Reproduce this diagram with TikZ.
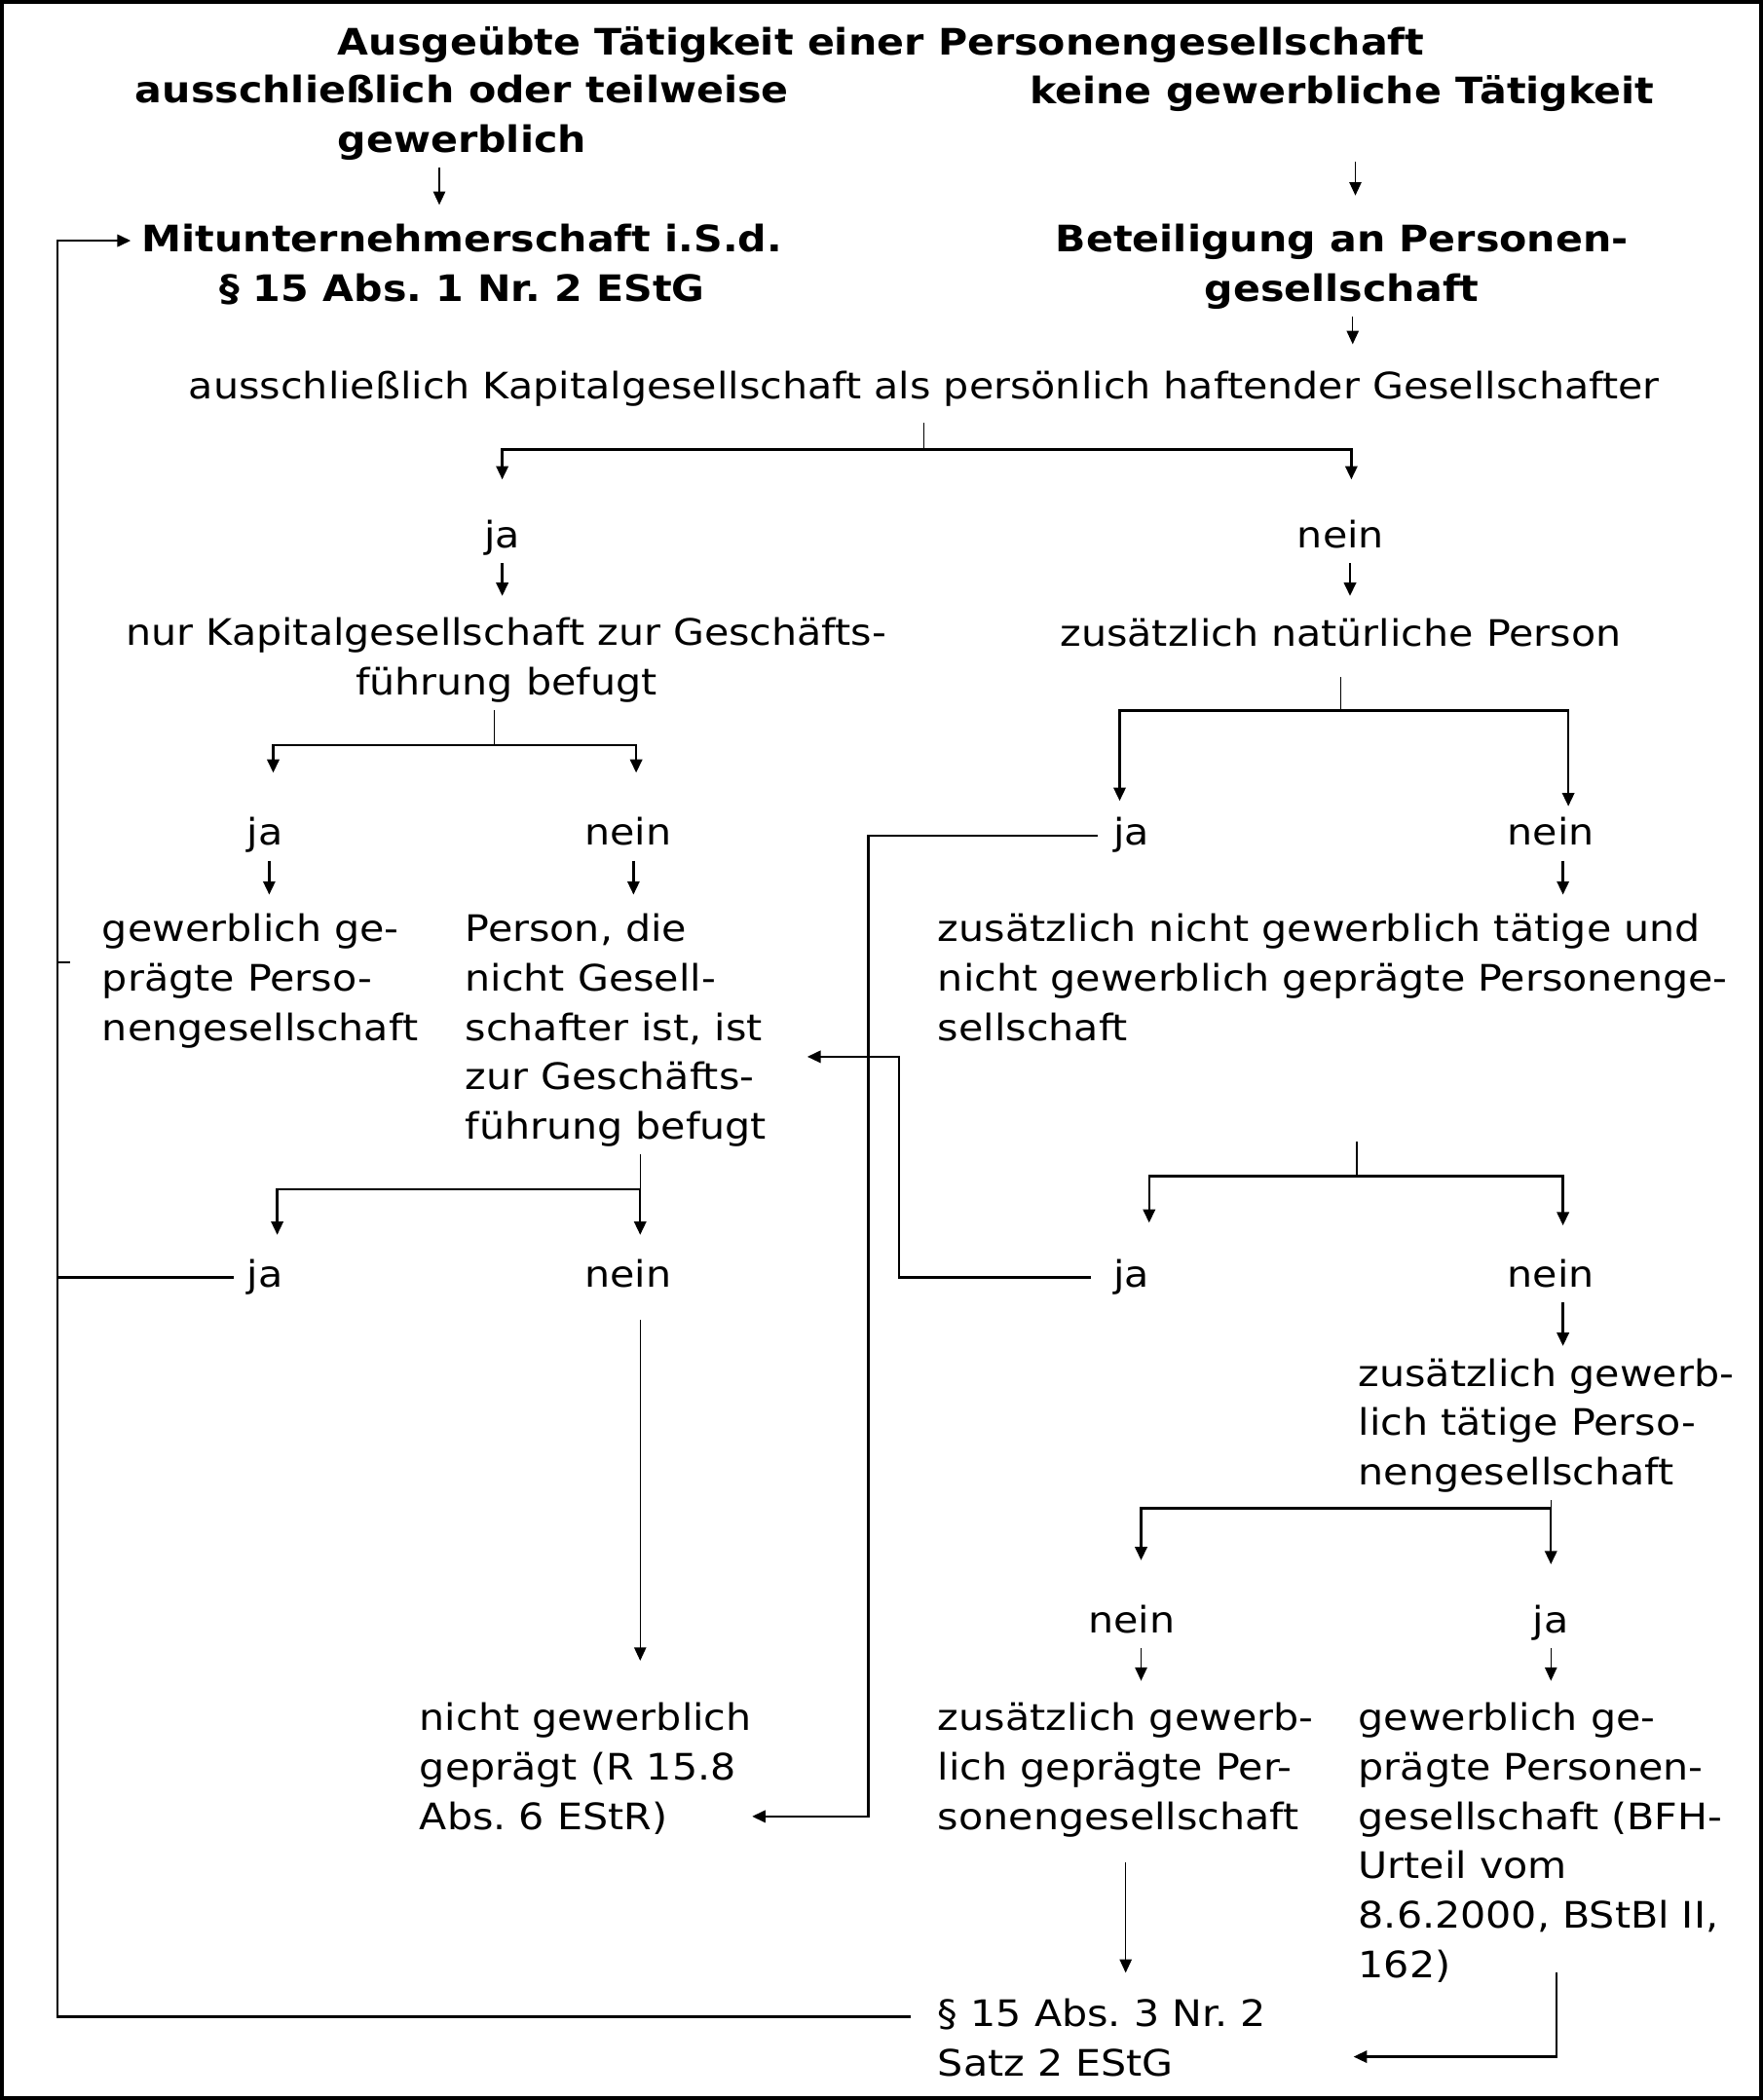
\documentclass[tikz,border=0pt]{standalone}
\usepackage{fontspec}
\setmainfont{DejaVu Sans}[FakeStretch=1.1]
\usetikzlibrary{arrows.meta}
\newcommand{\fs}{\fontsize{15.5}{21}\selectfont}
\frenchspacing

\begin{document}
\begin{tikzpicture}[x=0.02cm, y=-0.02cm,
    txt/.style={anchor=north west, inner sep=0pt, align=left, font=\fs,
      execute at begin node=\strut, execute at end node=\strut},
    ctxt/.style={txt, anchor=north, align=center},
    btxt/.style={ctxt, font=\fs\bfseries},
    lin/.style={line width=1pt},
    thin/.style={line width=0.6pt},
    arr/.style={lin, -{Triangle[length=2mm,width=1.8mm]}}]
    \useasboundingbox (0,0) rectangle (1316,1568);
    \draw[line width=1.6pt] (1.4,1.4) rectangle (1314.6,1566.6);

    % headings
    \node[btxt] (titel) at (658,15) {Ausgeübte Tätigkeit einer Personengesellschaft};
    \node[btxt] (gewl) at (345,56) {ausschließlich oder teilweise\\gewerblich};
    \node[btxt] (keine) at (1002,51) {keine gewerbliche Tätigkeit};
    \node[btxt] (mitu) at (345,167) {Mitunternehmerschaft i.S.d.\\§ 15 Abs. 1 Nr. 2 EStG};
    \node[btxt] (beteil) at (1002,167) {Beteiligung an Personen-\\gesellschaft};
    \node[ctxt] (kap) at (690,272) {ausschließlich Kapitalgesellschaft als persönlich haftender Gesellschafter};

    \node[ctxt] (ja1) at (375,383) {ja};
    \node[ctxt] (nein1) at (1001,383) {nein};
    \node[ctxt] (nurkap) at (378,461) {nur Kapitalgesellschaft zur Geschäfts-\\führung befugt};
    \node[ctxt] (zusnat) at (1001,456) {zusätzlich natürliche Person};

    \node[ctxt] (ja2) at (198,605) {ja};
    \node[ctxt] (nein2) at (469,605) {nein};
    \node[ctxt] (ja3) at (845,605) {ja};
    \node[ctxt] (nein3) at (1158,605) {nein};

    \node[txt] (gepr1) at (76,682) {gewerblich ge-\\prägte Perso-\\nengesellschaft};
    \node[txt] (person) at (347,682) {Person, die\\nicht Gesell-\\schafter ist, ist\\zur Geschäfts-\\führung befugt};
    \node[txt] (zusnicht) at (700,682) {zusätzlich nicht gewerblich tätige und\\nicht gewerblich geprägte Personenge-\\sellschaft};

    \node[ctxt] (ja4) at (198,935) {ja};
    \node[ctxt] (nein4) at (469,935) {nein};
    \node[ctxt] (ja5) at (845,935) {ja};
    \node[ctxt] (nein5) at (1158,935) {nein};

    \node[txt] (zusgewt) at (1014,1014) {zusätzlich gewerb-\\lich tätige Perso-\\nengesellschaft};
    \node[ctxt] (nein6) at (845,1193) {nein};
    \node[ctxt] (ja6) at (1158,1193) {ja};

    \node[txt] (nichtgew) at (313,1271) {nicht gewerblich\\geprägt (R 15.8\\Abs. 6 EStR)};
    \node[txt] (zusgewp) at (700,1271) {zusätzlich gewerb-\\lich geprägte Per-\\sonengesellschaft};
    \node[txt] (gepr2) at (1014,1271) {gewerblich ge-\\prägte Personen-\\gesellschaft (BFH-\\Urteil vom\\8.6.2000, BStBl II,\\162)};
    \node[txt] (para) at (700,1492) {§ 15 Abs. 3 Nr. 2\\Satz 2 EStG};

    % top arrows
    \draw[arr, thin, shorten >=2.8mm] ([xshift=-0.34cm]gewl.south) -- ([xshift=-0.34cm]gewl.south |- mitu.north);
    \draw[arr, thin, shorten <=6.4mm, shorten >=4.2mm] ([xshift=0.2cm]keine.south) -- ([xshift=0.2cm]keine.south |- beteil.north);
    \draw[arr, thin, shorten >=3mm] ([xshift=0.16cm]beteil.south) -- ([xshift=0.16cm]beteil.south |- kap.north);

    % first split
    \draw[thin, shorten <=1.2mm] (kap.south) -- ++(0,26) coordinate (k1);
    \draw[arr, shorten >=5mm] (k1) -| (ja1.north);
    \draw[arr, shorten >=5mm] (k1) -| ([xshift=0.16cm]nein1.north);
    \draw[arr, shorten >=3.2mm] (ja1.south) -- (ja1.south |- nurkap.north);
    \draw[arr, shorten >=2.2mm] ([xshift=0.14cm]nein1.south) -- ([xshift=0.14cm]nein1.south |- zusnat.north);

    % left split
    \draw[thin] ([xshift=-0.18cm]nurkap.south) -- ++(0,26) coordinate (k2);
    \draw[arr, shorten >=5.6mm] (k2) -| ([xshift=0.12cm]ja2.north);
    \draw[arr, shorten >=5.6mm] (k2) -| ([xshift=0.12cm]nein2.north);
    \draw[arr, shorten >=2.8mm] ([xshift=0.06cm]ja2.south) -- ([xshift=0.06cm]ja2.south |- gepr1.north);
    \draw[arr, shorten >=2.8mm] ([xshift=0.08cm]nein2.south) -- ([xshift=0.08cm]nein2.south |- person.north);

    % right split
    \draw[thin, shorten <=2.4mm] (zusnat.south) -- ++(0,37) coordinate (k3);
    \draw[arr, shorten >=1.4mm] (k3) -| ([xshift=-0.18cm]ja3.north);
    \draw[arr, shorten >=0.6mm] (k3) -| ([xshift=0.26cm]nein3.north);
    \draw[arr, shorten >=2.8mm] ([xshift=0.18cm]nein3.south) -- ([xshift=0.18cm]nein3.south |- zusnicht.north);
    \draw[arr, shorten <=2.4mm] (ja3.west) -- ++(-183,0) |- ([yshift=0.42cm]nichtgew.south east);

    % split below Person
    \draw[thin] ([xshift=0.18cm]nein4.north |- person.south) -- ++(0,26) coordinate (k4);
    \draw[arr, shorten >=2.6mm] (k4) -| ([xshift=0.18cm]ja4.north);
    \draw[arr, shorten >=2.6mm] (k4) -- ([xshift=0.18cm]nein4.north);
    \draw[arr, thin, shorten <=2.6mm, shorten >=6.2mm] ([xshift=0.18cm]nein4.south) -- ([xshift=0.18cm]nein4.south |- nichtgew.north);

    % split below zusaetzlich nicht gewerblich
    \draw[thin, shorten <=1.28cm] ([xshift=0.36cm]zusnicht.south) -- ++(0,90) coordinate (k5);
    \draw[arr, shorten >=4.4mm] (k5) -| ([xshift=0.26cm]ja5.north);
    \draw[arr, shorten >=4mm] (k5) -| ([xshift=0.18cm]nein5.north);
    \draw[arr, shorten <=0.34cm, shorten >=0.6cm] (ja5.west) -- ++(-160,0) |- ([yshift=-0.34cm]person.east);
    \draw[arr, shorten >=1.8mm] ([xshift=0.18cm]nein5.south) -- ([xshift=0.18cm]nein5.south |- zusgewt.north);

    % split below zusaetzlich gewerblich taetig
    \draw[thin] (zusgewt.south -| ja6.north) -- ++(0,6) coordinate (k6);
    \draw[arr, shorten >=5mm] (k6) -- (ja6.north);
    \draw[arr, shorten >=5.6mm] (k6) -| ([xshift=0.14cm]nein6.north);
    \draw[arr, thin, shorten >=3.2mm] ([xshift=0.14cm]nein6.south) -- ([xshift=0.14cm]nein6.south |- zusgewp.north);
    \draw[arr, thin, shorten >=3.2mm] (ja6.south) -- (ja6.south |- gepr2.north);

    % bottom
    \draw[arr, thin, shorten <=2.6mm, shorten >=3.8mm] (zusgewp.south) -- (zusgewp.south |- para.north);
    \draw[arr, shorten <=-3mm, shorten >=1.3cm] ([xshift=0.24cm]gepr2.south) |- ([yshift=-0.18cm]para.east);

    % loop back to Mitunternehmerschaft
    \draw[arr, shorten <=0.4cm, shorten >=1.6mm] ([yshift=0.42cm]para.west) -- ++(-657,0) coordinate (lbus) |- ([yshift=0.44cm]mitu.west);
    \draw[lin, shorten <=0.2cm] (ja4.west) -- (ja4.west -| lbus);
    \draw[lin, shorten >=4.8mm] ([yshift=0.33cm]gepr1.west -| lbus) -- ([yshift=0.33cm]gepr1.west);
\end{tikzpicture}
\end{document}
